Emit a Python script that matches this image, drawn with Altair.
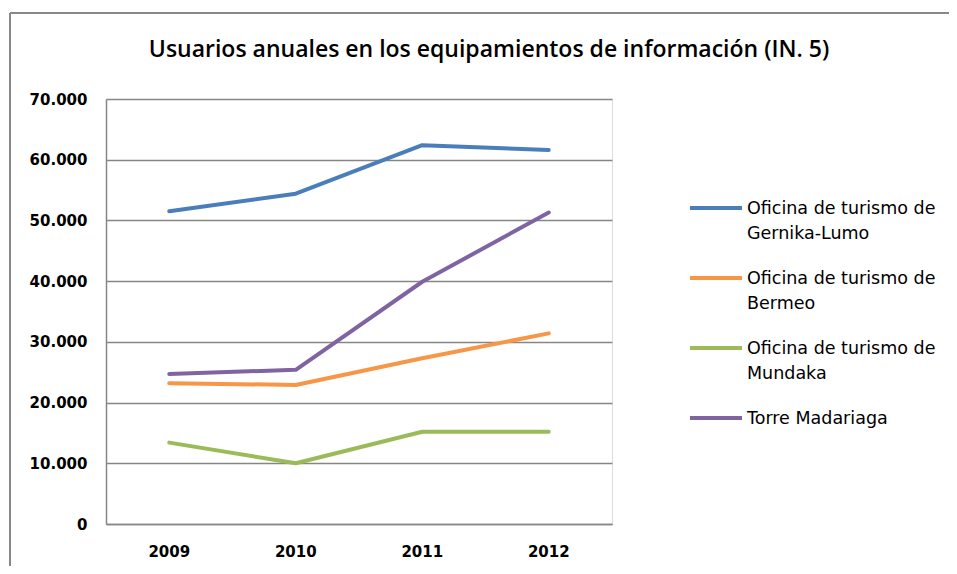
import altair as alt
import pandas as pd

years = ["2009", "2010", "2011", "2012"]
series = [
    "Oficina de turismo de Gernika-Lumo",
    "Oficina de turismo de Bermeo",
    "Oficina de turismo de Mundaka",
    "Torre Madariaga",
]
gernika = [51500, 54400, 62400, 61600]
bermeo = [23200, 22900, 27300, 31400]
mundaka = [13400, 10000, 15200, 15200]
torre = [24700, 25400, 39900, 51300]
colors = ["#4A7EBB", "#F79646", "#9BBB59", "#8064A2"]
title_text = "Usuarios anuales en los equipamientos de información (IN. 5)"

rows = []
for name, vals in zip(series, [gernika, bermeo, mundaka, torre]):
    for y, v in zip(years, vals):
        rows.append({"Año": y, "Usuarios": v, "Serie": name})
df = pd.DataFrame(rows)
single = pd.DataFrame({"titulo": [title_text]})

TICKFONT = "DejaVu Sans"
LABFONT = "DejaVu Sans"
TITLEFONT = "Open Sans"

lines = alt.Chart(df).mark_line(strokeWidth=4, strokeCap="round", strokeJoin="round").encode(
    x=alt.X("Año:N", sort=years,
            scale=alt.Scale(type="band", paddingInner=0, paddingOuter=0),
            axis=alt.Axis(title=None, labelAngle=0, ticks=False, domainColor="#868686",
                          domainWidth=1.5, labelFont=TICKFONT, labelFontSize=15,
                          labelFontWeight="bold", labelColor="#000", labelPadding=14,
                          grid=False, bandPosition=0.5)),
    y=alt.Y("Usuarios:Q",
            scale=alt.Scale(domain=[0, 70000]),
            axis=alt.Axis(title=None, values=list(range(0, 70001, 10000)), ticks=False,
                          domainColor="#868686", domainWidth=1.5, gridColor="#868686",
                          gridWidth=1.5, labelFont=TICKFONT, labelFontSize=15,
                          labelFontWeight="bold", labelColor="#000", labelPadding=19,
                          labelOffset=-6,
                          labelExpr="replace(format(datum.value, ',d'), ',', '.')")),
    color=alt.Color("Serie:N",
                    scale=alt.Scale(domain=series, range=colors),
                    legend=alt.Legend(title=None, orient="none", legendX=582, legendY=81,
                                      symbolType="stroke", symbolSize=2704,
                                      symbolStrokeWidth=4, labelFont=LABFONT,
                                      labelFontSize=17.5, labelColor="#000",
                                      labelOffset=3, labelLimit=300, rowPadding=7,
                                      labelBaseline="alphabetic",
                                      labelExpr="indexof(datum.label, 'Oficina') == 0 ? ['Oficina de turismo de', slice(datum.label, 22)] : datum.label")),
)

title = alt.Chart(single).mark_text(font=TITLEFONT, fontSize=23, fontWeight=600,
                                    color="#000", align="center", baseline="alphabetic").encode(
    x=alt.value(383), y=alt.value(-42), text="titulo:N")

border_top = alt.Chart(single).mark_rule(color="#888888", strokeWidth=2).encode(
    x=alt.value(-96), x2=alt.value(860), y=alt.value(-86))
border_left = alt.Chart(single).mark_rule(color="#888888", strokeWidth=2).encode(
    x=alt.value(-96), y=alt.value(-86), y2=alt.value(480))

chart = alt.layer(border_top, border_left, title, lines).properties(
    width=506, height=425,
    autosize=alt.AutoSizeParams(type="none"),
    padding={"left": 98, "top": 91, "right": 337, "bottom": 42},
).configure_view(stroke=None).configure(
    style={"guide-label": {"lineHeight": 25, "dy": 6}}
)

chart.save("out.html", embed_options={"renderer": "svg", "actions": False})
